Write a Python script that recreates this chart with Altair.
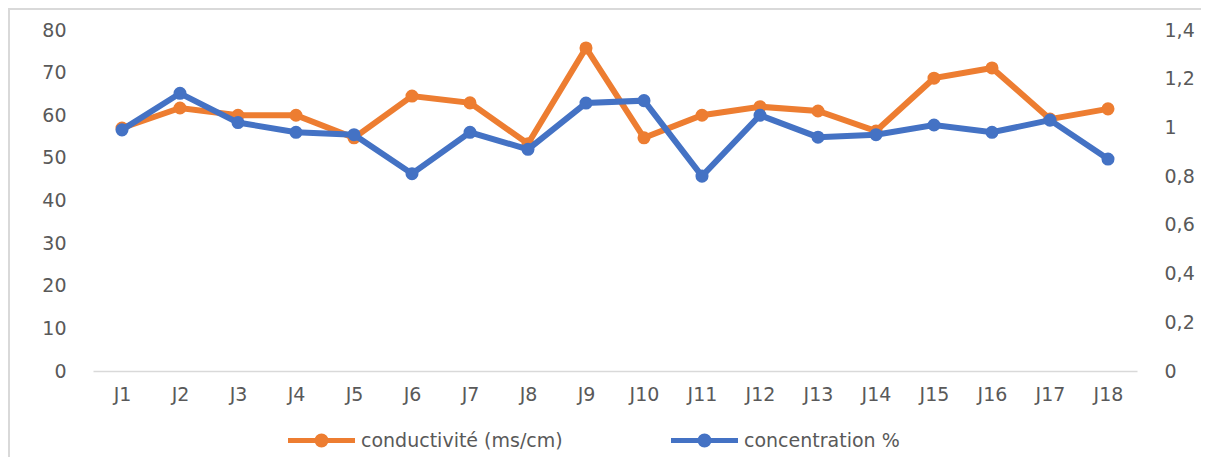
import altair as alt
import pandas as pd

days = ["J1", "J2", "J3", "J4", "J5", "J6", "J7", "J8", "J9", "J10",
        "J11", "J12", "J13", "J14", "J15", "J16", "J17", "J18"]
conductivite = [57.0, 61.7, 60.0, 60.0, 54.7, 64.5, 62.9, 53.3, 75.8, 54.7,
                60.0, 62.0, 61.0, 56.3, 68.7, 71.1, 59.1, 61.5]
concentration = [0.99, 1.14, 1.02, 0.98, 0.97, 0.81, 0.98, 0.91, 1.10, 1.11,
                 0.80, 1.05, 0.96, 0.97, 1.01, 0.98, 1.03, 0.87]
left_ticks = [0, 10, 20, 30, 40, 50, 60, 70, 80]
right_ticks = [0, 0.2, 0.4, 0.6, 0.8, 1.0, 1.2, 1.4]
series_names = ["conductivité (ms/cm)", "concentration %"]
series_colors = ["#ED7D31", "#4472C4"]

df = pd.DataFrame({"day": days, "cond": conductivite, "conc": concentration,
                   "s_cond": series_names[0], "s_conc": series_names[1]})

FONT = "DejaVu Sans"
TXT = "#595959"
W, H = 1044, 341

legend_path = ("M-3.35,0 L3.35,0 "
               "M0.45,0 A0.45,0.45 0 1,1 -0.45,0 A0.45,0.45 0 1,1 0.45,0 "
               "M0.2,0 A0.2,0.2 0 1,1 -0.2,0 A0.2,0.2 0 1,1 0.2,0")

color_scale = alt.Scale(domain=series_names, range=series_colors)
legend = alt.Legend(
    title=None, orient="none", direction="horizontal",
    legendX=216, legendY=398,
    symbolType=legend_path, symbolSize=400, symbolStrokeWidth=5,
    symbolOpacity=1,
    labelOffset=27, columnPadding=98,
    labelFont=FONT, labelFontSize=19, labelColor=TXT, labelLimit=400,
)

x_enc = alt.X("day:N", sort=days, title=None,
              axis=alt.Axis(labelAngle=0, ticks=False, domainColor="#d9d9d9",
                            domainWidth=1.5, labelPadding=14, grid=False))

y_left = alt.Y("cond:Q", title=None,
               scale=alt.Scale(domain=[0, 80], nice=False),
               axis=alt.Axis(values=left_ticks, orient="left", domain=False, ticks=False,
                             grid=False, labelPadding=27))
y_right = alt.Y("conc:Q", title=None,
                scale=alt.Scale(domain=[0, 1.4], nice=False),
                axis=alt.Axis(values=right_ticks, orient="right", domain=False, ticks=False,
                              grid=False, labelPadding=27,
                              labelExpr="replace(format(datum.value, '.1~f'), '.', ',')"))

base = alt.Chart(df)

line_cond = base.mark_line(strokeWidth=6).encode(
    x=x_enc, y=y_left,
    color=alt.Color("s_cond:N", scale=color_scale, legend=legend),
)
pts_cond = base.mark_point(size=170, filled=True, opacity=1, color=series_colors[0]).encode(
    x=x_enc, y=alt.Y("cond:Q"),
)
line_conc = base.mark_line(strokeWidth=6).encode(
    x=x_enc, y=y_right,
    color=alt.Color("s_conc:N", scale=color_scale, legend=legend),
)
pts_conc = base.mark_point(size=170, filled=True, opacity=1, color=series_colors[1]).encode(
    x=x_enc, y=alt.Y("conc:Q"),
)

cond_layer = alt.layer(line_cond, pts_cond)
conc_layer = alt.layer(line_conc, pts_conc)

frame = alt.Chart(alt.Data(values=[{}])).mark_rect(
    filled=False, stroke="#d9d9d9", strokeWidth=2, clip=False
).encode(
    x=alt.value(-84), x2=alt.value(W + 300),
    y=alt.value(-21), y2=alt.value(H + 300),
)

chart = alt.layer(frame, cond_layer, conc_layer).resolve_scale(
    y="independent"
).properties(
    width=W, height=H,
    autosize=alt.AutoSizeParams(type="none"),
    padding={"left": 85, "top": 22, "right": 64, "bottom": 86},
).configure_view(stroke=None).configure_axis(
    labelFont=FONT, labelFontSize=19, labelColor=TXT
)

chart.save("out.html", embed_options={"renderer": "svg", "actions": False})
